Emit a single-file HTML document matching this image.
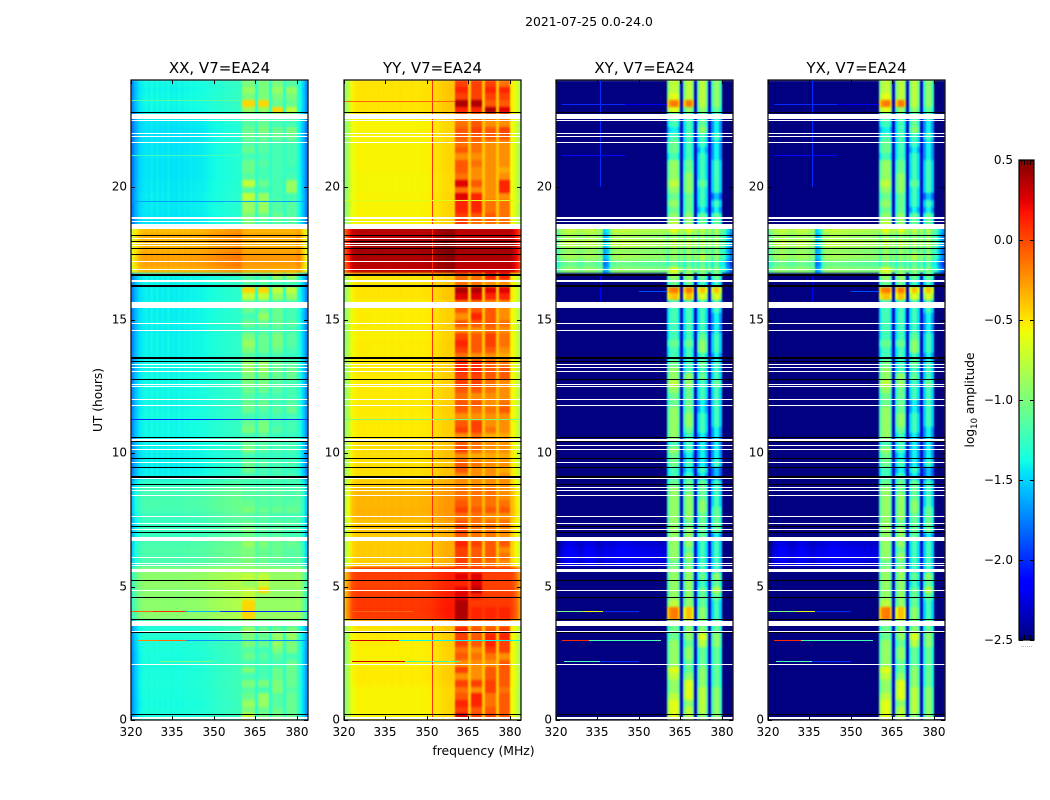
<!DOCTYPE html>
<html>
<head>
<meta charset="utf-8">
<title>2021-07-25 0.0-24.0</title>
<style>
html,body{margin:0;padding:0;background:#fff;}
svg{display:block;font-family:"DejaVu Sans","Liberation Sans",sans-serif;fill:#000;}
</style>
</head>
<body>
<svg id="figure" xmlns="http://www.w3.org/2000/svg" width="1050" height="800" viewBox="0 0 1050 800">
  <defs>
    <filter id="cellSoften" x="0" y="0" width="1" height="1" color-interpolation-filters="sRGB">
      <feGaussianBlur stdDeviation="0.7 1.1"/>
    </filter>
  </defs>
  <rect x="0" y="0" width="1050" height="800" fill="#fff"/>
  <text x="589" y="26" font-size="12.4" text-anchor="middle">2021-07-25 0.0-24.0</text>
  <text x="483.5" y="755" font-size="12.4" text-anchor="middle">frequency (MHz)</text>
  <text transform="translate(102,400) rotate(-90)" font-size="12.2" text-anchor="middle">UT (hours)</text>
  <text transform="translate(974,400) rotate(-90)" font-size="12.2" text-anchor="middle">log<tspan font-size="8.5" dy="3">10</tspan><tspan dy="-3"> amplitude</tspan></text>
  <g id="panels"></g>
  <g id="colorbar"></g>
</svg>
<script>
// ---------- axis categories and tick labels ----------
const freqTicks = [320, 335, 350, 365, 380];
const hourTicks = [0, 5, 10, 15, 20];
const colorbarTicks = [0.5, 0.0, -0.5, -1.0, -1.5, -2.0, -2.5];
const colorbarTickLabels = ["0.5", "0.0", "\u22120.5", "\u22121.0", "\u22121.5", "\u22122.0", "\u22122.5"];
const freqRange = [320, 384];
const hourRange = [0, 24];
const colorRange = [-2.5, 0.5];
const rowHours = 0.25;

// sub-bands in MHz where the strong signal sits
const bandEdges = [[360, 365], [366, 370], [371, 375], [376, 380]];

// ---------- flagged (white) and dropout (black) time intervals, hours ----------
const whiteIntervals = [
[22.52,22.74],[22.47,22.50],[21.99,22.01],[21.87,21.90],[21.65,21.68],[18.80,18.86],[18.67,18.71],[18.42,18.61],
[18.05,18.09],[17.86,17.89],[17.78,17.81],[17.19,17.21],[16.89,16.91],[16.43,16.50],[15.46,15.67],[14.86,14.89],
[14.60,14.62],[13.32,13.35],[13.20,13.24],[13.06,13.09],[12.57,12.60],[12.50,12.52],[12.01,12.04],[11.79,11.81],
[10.45,10.55],[10.29,10.31],[10.14,10.16],[9.65,9.67],[9.04,9.09],[8.72,8.74],[8.62,8.64],[8.41,8.44],
[7.62,7.65],[7.38,7.40],[7.14,7.16],[6.71,6.85],[6.09,6.11],[5.84,5.87],[5.77,5.80],[5.56,5.67],
[4.85,4.87],[3.54,3.72],[3.33,3.35],[2.08,2.10],[0.09,0.11],[0.04,0.06]
];
const blackIntervals = [
[22.77,22.80],[18.16,18.19],[17.93,17.96],[17.67,17.70],[17.45,17.48],[16.70,16.73],[16.64,16.67],[16.24,16.31],
[13.55,13.60],[13.45,13.48],[12.76,12.79],[10.58,10.61],[10.42,10.45],[9.80,9.83],[9.46,9.49],[9.09,9.14],
[8.82,8.85],[7.24,7.27],[7.03,7.06],[5.23,5.26],[4.59,4.62],[3.77,3.80],[3.28,3.31],[0.20,0.23]
];

// ---------- continuum level per 0.25 h row (bottom to top), log10 amplitude ----------
const rowLevelXX = [
-1.33,-1.33,-1.34,-1.33,-1.33,-1.32,-1.33,-1.33,-1.33,-1.33,-1.32,-1.31,
-1.30,-1.31,-1.31,-0.92,-0.92,-0.91,-0.92,-0.92,-0.90,-0.91,-0.92,-1.16,
-1.15,-1.14,-1.16,-1.22,-1.22,-1.22,-1.21,-1.17,-1.16,-1.17,-1.18,-1.25,
-1.38,-1.39,-1.39,-1.39,-1.38,-1.38,-1.36,-1.36,-1.36,-1.35,-1.36,-1.36,
-1.36,-1.36,-1.36,-1.36,-1.37,-1.36,-1.38,-1.38,-1.38,-1.38,-1.39,-1.38,
-1.39,-1.39,-1.38,-1.39,-1.39,-1.38,-1.38,-0.32,-0.26,-0.25,-0.30,-0.33,
-0.30,-0.34,-1.42,-1.42,-1.41,-1.41,-1.40,-1.41,-1.41,-1.42,-1.42,-1.42,
-1.42,-1.42,-1.42,-1.43,-1.43,-1.42,-1.40,-1.37,-1.36,-1.36,-1.37,-1.36
];
const rowLevelYY = [
-0.56,-0.55,-0.55,-0.55,-0.55,-0.53,-0.52,-0.52,-0.54,-0.54,-0.54,-0.53,
-0.52,-0.50,-0.50, 0.05, 0.06, 0.05, 0.04, 0.03, 0.02, 0.03, 0.05,-0.43,
-0.42,-0.42,-0.42,-0.42,-0.40,-0.40,-0.35,-0.34,-0.35,-0.35,-0.36,-0.42,
-0.48,-0.48,-0.49,-0.48,-0.48,-0.48,-0.52,-0.52,-0.52,-0.53,-0.52,-0.52,
-0.52,-0.52,-0.52,-0.52,-0.52,-0.52,-0.53,-0.53,-0.53,-0.54,-0.53,-0.53,
-0.53,-0.53,-0.53,-0.50,-0.50,-0.50,-0.50, 0.32, 0.35, 0.38, 0.40, 0.42,
 0.33, 0.35,-0.55,-0.55,-0.55,-0.55,-0.55,-0.56,-0.56,-0.56,-0.55,-0.55,
-0.55,-0.55,-0.55,-0.55,-0.55,-0.55,-0.50,-0.50,-0.50,-0.50,-0.50,-0.50
];
const rowLevelXY = [
-3.0,-3.0,-3.0,-3.0,-3.0,-3.0,-3.0,-3.0,-3.0,-3.0,-3.0,-3.0,
-3.0,-3.0,-3.0,-3.0,-3.0,-3.0,-3.0,-3.0,-3.0,-3.0,-3.0,-2.25,
-2.2,-2.22,-2.28,-3.0,-3.0,-3.0,-3.0,-3.0,-3.0,-3.0,-3.0,-3.0,
-3.0,-3.0,-3.0,-3.0,-3.0,-3.0,-3.0,-3.0,-3.0,-3.0,-3.0,-3.0,
-3.0,-3.0,-3.0,-3.0,-3.0,-3.0,-3.0,-3.0,-3.0,-3.0,-3.0,-3.0,
-3.0,-3.0,-3.0,-3.0,-3.0,-3.0,-3.0,-0.95,-1.10,-0.90,-0.95,-0.80,
-0.90,-0.80,-3.0,-3.0,-3.0,-3.0,-3.0,-3.0,-3.0,-3.0,-3.0,-3.0,
-3.0,-3.0,-3.0,-3.0,-3.0,-3.0,-3.0,-3.0,-3.0,-3.0,-3.0,-3.0
];

// ---------- per-channel (1 MHz) offsets, 320 to 383 MHz ----------
const channelOffsetXX = [
-0.35,-0.20,-0.12,-0.07,-0.04,-0.02,-0.05,-0.01,-0.04,-0.01,-0.05,-0.02,-0.04,-0.01,-0.05,-0.03,
-0.04,-0.02,-0.04,-0.01,-0.03,-0.01,-0.02,-0.01,-0.01,-0.01, 0.00, 0.01, 0.02, 0.03, 0.04, 0.05,
 0.05, 0.06, 0.07, 0.08, 0.08, 0.09, 0.10, 0.10, 0.00, 0.00, 0.00, 0.00, 0.00, 0.00, 0.00, 0.00,
 0.00, 0.00, 0.00, 0.00, 0.00, 0.00, 0.00, 0.00, 0.00, 0.00, 0.00, 0.00, 0.05,-0.02,-0.15,-0.35
];
const channelOffsetYY = [
-0.40,-0.25,-0.10,-0.03, 0.00, 0.01, 0.00, 0.01, 0.00, 0.01, 0.00, 0.00, 0.01, 0.00, 0.01, 0.00,
 0.00, 0.01, 0.00, 0.00, 0.01, 0.00, 0.00, 0.00, 0.01, 0.00, 0.00, 0.01, 0.01, 0.01, 0.02, 0.02,
 0.03, 0.05, 0.07, 0.08, 0.09, 0.10, 0.10, 0.10, 0.00, 0.00, 0.00, 0.00, 0.00, 0.00, 0.00, 0.00,
 0.00, 0.00, 0.00, 0.00, 0.00, 0.00, 0.00, 0.00, 0.00, 0.00, 0.00, 0.00,-0.02,-0.06,-0.16,-0.30
];
const channelOffsetXY = [
-0.25,-0.10, 0.00, 0.00, 0.05, 0.05, 0.02, 0.00,-0.05,-0.02, 0.02, 0.04, 0.04, 0.02, 0.00,-0.05,
-0.05, 0.00, 0.00, 0.00, 0.00, 0.02, 0.04, 0.05, 0.05, 0.04, 0.03, 0.02, 0.02, 0.01, 0.00, 0.00,
 0.00, 0.00,-0.02,-0.02,-0.02,-0.03,-0.03,-0.04,-0.30,-0.05, 0.00, 0.00,-0.25, 0.00,-0.25, 0.00,
 0.00,-0.25, 0.00,-0.25, 0.00, 0.00,-0.25, 0.00,-0.30, 0.00, 0.00,-0.30,-0.30,-0.50,-0.70,-0.90
];
// dips that only show in the bright cross-hand rows: MHz channel, dip
const brightRowDipsXY = [[337, -0.7], [338, -0.6], [339, -0.25]];

// ---------- band activity per 0.25 h row (0 quiet to 9 hot), bottom to top ----------
const activityA1 = [
8,6,7,5,4,6,3,6,3,5,4,6, 6,7,4,9,9,9,8,8,7,8,5,6, 6,6,7,5,6,5,4,6,5,4,4,3, 3,5,5,3,6,5,3,6,5,3,5,5,
4,5,6,6,7,7,4,6,7,6,3,5, 3,5,4,8,9,4,4,1,1,1,1,1, 1,1,6,6,7,7,8,4,8,4,5,5, 3,5,4,5,5,4,4,7,9,6,7,6
];
const activityA2 = [
6,5,7,7,3,6,3,3,3,4,3,5, 5,5,4,7,7,6,7,9,8,8,5,5, 5,5,6,4,4,4,4,5,4,4,4,3, 3,3,4,2,4,4,4,6,6,3,4,5,
3,5,6,6,7,7,3,5,5,5,3,5, 7,5,4,8,9,4,4,1,1,1,1,1, 1,1,4,5,7,7,7,3,5,3,3,4, 3,4,4,5,6,5,4,7,9,6,6,6
];
const activityA3 = [
6,5,4,4,6,6,5,5,3,4,6,7, 7,5,4,7,7,5,5,6,6,6,3,4, 5,5,5,4,4,4,3,5,4,4,4,3, 3,3,3,2,3,3,2,4,3,3,4,3,
3,4,4,5,5,5,3,5,6,6,4,5, 5,5,3,7,8,3,7,1,1,1,1,1, 1,1,4,5,4,4,3,3,3,3,3,3, 3,3,3,5,5,3,4,9,5,6,7,6
];
const activityA4 = [
5,5,5,5,4,5,5,5,5,3,6,6, 7,6,4,7,7,6,5,6,6,6,4,3, 4,3,5,3,3,4,3,5,4,3,3,3, 3,2,3,2,3,3,2,3,3,3,5,4,
3,3,3,5,5,4,2,3,4,4,3,4, 3,3,3,7,8,3,7,1,1,1,1,1, 1,1,4,4,4,4,3,7,7,3,2,3, 3,3,3,5,6,3,4,8,5,6,7,4
];
const activityB1 = [
7,7,7,6,5,5,6,7,5,5,5,5, 4,4,4,9,9,6,5,5,5,5,5,4, 5,5,5,5,5,5,5,5,5,5,5,4, 3,3,4,4,5,3,5,5,5,5,5,4,
4,5,6,5,5,4,3,3,4,3,3,3, 3,3,3,8,9,4,5,7,4,5,5,6, 5,7,6,5,4,5,4,5,6,5,5,5, 3,4,4,3,2,3,3,7,9,7,6,6
];
const activityB2 = [
6,6,5,7,7,7,5,4,4,5,5,4, 5,5,4,8,8,5,5,5,5,5,5,4, 5,4,5,5,5,4,5,5,5,5,4,4, 3,2,3,2,3,3,3,4,5,5,4,4,
4,4,5,5,3,3,3,3,4,3,3,3, 3,3,3,8,9,4,5,5,3,5,5,6, 5,7,5,5,4,4,4,5,5,5,4,4, 3,3,3,3,3,3,3,5,9,6,6,6
];
const activityB3 = [
5,6,6,6,6,5,5,5,4,4,4,6, 7,5,4,5,5,4,4,4,3,4,3,3, 3,3,3,4,4,4,4,5,5,4,4,4, 2,3,2,2,2,2,2,3,3,3,2,2,
3,3,3,4,3,4,3,5,5,4,3,3, 3,3,3,7,8,3,4,5,4,6,4,5, 5,6,4,4,2,3,3,3,4,3,3,3, 3,2,3,3,5,4,3,5,6,6,6,6
];
const activityB4 = [
5,5,5,5,5,4,4,4,4,4,4,5, 5,4,4,3,3,3,4,6,4,5,3,3, 3,3,3,2,4,4,4,4,3,3,3,3, 1,1,3,2,2,2,2,2,3,3,3,3,
3,3,4,3,3,3,2,3,3,3,2,2, 2,3,3,7,8,3,4,4,3,5,4,4, 4,5,4,4,2,3,1,3,3,3,3,3, 2,2,2,3,2,2,3,4,5,5,5,5
];

// activity digit to log10 amplitude, one table per polarisation
const activityLevelsXX = [-1.33,-1.30,-1.25,-1.20,-1.14,-1.07,-1.00,-0.90,-0.75,-0.45];
const activityLevelsYY = [-0.42,-0.37,-0.31,-0.22,-0.13,-0.05,0.03,0.12,0.25,0.38];
const activityLevelsXY = [-1.65,-1.55,-1.40,-1.20,-1.05,-0.90,-0.75,-0.62,-0.38,-0.15];

// value in the narrow gaps between sub-bands
const gapLevelXX = -1.28;
const gapLevelYY = -0.40;
const gapLevelXY = -2.30;

// single-row streaks: hour, start MHz, end MHz, log10 amplitude
const streaksXX = [
[23.25,320,360,-1.12],[21.2,320,360,-1.22],[19.45,320,384,-1.65],[11.3,320,384,-2.0],
[4.1,320,328,-0.1],[4.1,328,340,0.1],[4.1,340,352,-1.6],[4.1,352,384,-2.0],
[3.0,322,330,-0.2],[3.0,330,340,-0.1],[3.0,340,384,-1.7],[2.2,330,350,-1.0]
];
const streaksYY = [
[23.2,320,360,-0.1],[19.5,320,384,-0.65],[11.3,320,384,-1.0],[4.1,322,345,-0.1],
[3.0,322,340,0.3],[3.0,340,384,-1.4],[2.2,323,342,0.3],[2.2,342,362,-1.2]
];
const streaksXY = [
[23.1,322,345,-2.0],[23.1,345,360,-2.2],[21.2,322,345,-2.1],[16.1,350,360,-1.9],
[4.1,320,330,-1.0],[4.1,330,337,-0.6],[4.1,337,350,-2.0],
[3.0,322,332,0.1],[3.0,332,345,-1.2],[3.0,345,358,-1.2],
[2.2,323,336,-1.2],[2.2,336,350,-2.0]
];

// thin vertical interference lines: MHz, start hour, end hour, log10 amplitude
const linesXX = [];
const linesYY = [[351.9,0,24,0.08]];
const linesXY = [[335.9,20,24,-2.0],[335.9,15.7,16.7,-2.2]];

const panelTitles = ["XX, V7=EA24", "YY, V7=EA24", "XY, V7=EA24", "YX, V7=EA24"];

// ---------- layout ----------
const SVG_NS = "http://www.w3.org/2000/svg";
const panelLefts = [131, 344, 556, 768];
const panelWidth = 177;
const plotTop = 80;
const plotBottom = 720;

function xScale(left, mhz) {
  return left + (mhz - freqRange[0]) / (freqRange[1] - freqRange[0]) * panelWidth;
}
function yScale(hour) {
  return plotBottom - (hour - hourRange[0]) / (hourRange[1] - hourRange[0]) * (plotBottom - plotTop);
}
function piece(t, pts) {
  for (let i = 1; i < pts.length; i++) {
    if (t <= pts[i][0]) {
      const a = pts[i - 1], b = pts[i];
      return a[1] + (b[1] - a[1]) * (t - a[0]) / (b[0] - a[0]);
    }
  }
  return pts[pts.length - 1][1];
}
function jet(value) {
  const t = Math.max(0, Math.min(1, (value - colorRange[0]) / (colorRange[1] - colorRange[0])));
  const r = piece(t, [[0, 0], [0.35, 0], [0.66, 1], [0.89, 1], [1, 0.5]]);
  const g = piece(t, [[0, 0], [0.125, 0], [0.375, 1], [0.64, 1], [0.91, 0], [1, 0]]);
  const b = piece(t, [[0, 0.5], [0.11, 1], [0.34, 1], [0.65, 0], [1, 0]]);
  return "rgb(" + Math.round(r * 255) + "," + Math.round(g * 255) + "," + Math.round(b * 255) + ")";
}
function bandIndex(channel) {
  const mhz = freqRange[0] + channel;
  if (mhz < bandEdges[0][0] || mhz >= bandEdges[bandEdges.length - 1][1]) return -1;
  for (let i = 0; i < bandEdges.length; i++) {
    if (mhz >= bandEdges[i][0] && mhz < bandEdges[i][1]) return i;
  }
  return 4;
}
function svgEl(tag) {
  return document.createElementNS(SVG_NS, tag);
}
function place(el, x, y, w, h, fill) {
  el.setAttribute("x", x);
  el.setAttribute("y", y);
  el.setAttribute("width", w);
  el.setAttribute("height", h);
  el.setAttribute("fill", fill);
  el.setAttribute("shape-rendering", "crispEdges");
}

const polarisations = [
  { rows: rowLevelXX, offsets: channelOffsetXX, dips: [], bands: [activityA1, activityA2, activityA3, activityA4], levels: activityLevelsXX, gap: gapLevelXX, streaks: streaksXX, lines: linesXX },
  { rows: rowLevelYY, offsets: channelOffsetYY, dips: [], bands: [activityA1, activityA2, activityA3, activityA4], levels: activityLevelsYY, gap: gapLevelYY, streaks: streaksYY, lines: linesYY },
  { rows: rowLevelXY, offsets: channelOffsetXY, dips: brightRowDipsXY, bands: [activityB1, activityB2, activityB3, activityB4], levels: activityLevelsXY, gap: gapLevelXY, streaks: streaksXY, lines: linesXY },
  { rows: rowLevelXY, offsets: channelOffsetXY, dips: brightRowDipsXY, bands: [activityB1, activityB2, activityB3, activityB4], levels: activityLevelsXY, gap: gapLevelXY, streaks: streaksXY, lines: linesXY }
];

const panelsRoot = document.getElementById("panels");

polarisations.forEach(function (pol, p) {
  const left = panelLefts[p];
  const g = svgEl("g");
  
  
  panelsRoot.appendChild(g);

  // heatmap cells, softened slightly to match the resampled image
  const cells = svgEl("g");
  
  
  cells.setAttribute("filter", "url(#cellSoften)");
  g.appendChild(cells);

  const channelCount = freqRange[1] - freqRange[0];
  pol.rows.forEach(function (rowLevel, r) {
    const hour0 = r * rowHours, hour1 = (r + 1) * rowHours;
    const yTop = Math.round(yScale(hour1));
    const yBottom = Math.round(yScale(hour0));
    for (let ch = 0; ch < channelCount; ch++) {
      const band = bandIndex(ch);
      let value = rowLevel + pol.offsets[ch];
      if (rowLevel > -1.5) {
        pol.dips.forEach(function (d) {
          if (d[0] === freqRange[0] + ch) value += d[1];
        });
      }
      if (band >= 0 && band < 4) {
        value = Math.max(value, pol.levels[pol.bands[band][r]] + pol.offsets[ch]);
      } else if (band === 4) {
        value = Math.max(value, pol.gap);
      }
      const x0 = Math.round(xScale(left, freqRange[0] + ch));
      const x1 = Math.round(xScale(left, freqRange[0] + ch + 1));
      const cell = svgEl("rect");
      
      
      place(cell, x0, yTop, x1 - x0, yBottom - yTop, jet(value));
      cells.appendChild(cell);
    }
  });

  // vertical interference lines
  pol.lines.forEach(function (line) {
    const el = svgEl("rect");
    
    
    place(el, Math.round(xScale(left, line[0])), Math.round(yScale(line[2])), 1, Math.round(yScale(line[1])) - Math.round(yScale(line[2])), jet(line[3]));
    g.appendChild(el);
  });

  // row streaks
  pol.streaks.forEach(function (s) {
    const el = svgEl("rect");
    
    
    const x0 = Math.round(xScale(left, s[1]));
    place(el, x0, Math.round(yScale(s[0])), Math.round(xScale(left, s[2])) - x0, 1, jet(s[3]));
    g.appendChild(el);
  });

  // flagged intervals
  whiteIntervals.forEach(function (iv) {
    const el = svgEl("rect");
    
    
    const y0 = Math.round(yScale(iv[1]));
    place(el, left, y0, panelWidth, Math.max(1, Math.round(yScale(iv[0])) - y0), "#fff");
    g.appendChild(el);
  });
  blackIntervals.forEach(function (iv) {
    const el = svgEl("rect");
    
    
    const y0 = Math.round(yScale(iv[1]));
    place(el, left, y0, panelWidth, Math.max(1, Math.round(yScale(iv[0])) - y0), "#000");
    g.appendChild(el);
  });

  // frame
  const frame = svgEl("rect");
  
  
  frame.setAttribute("x", left);
  frame.setAttribute("y", plotTop);
  frame.setAttribute("width", panelWidth);
  frame.setAttribute("height", plotBottom - plotTop);
  frame.setAttribute("fill", "none");
  frame.setAttribute("stroke", "#000");
  frame.setAttribute("stroke-width", "1.2");
  g.appendChild(frame);

  // title
  const title = svgEl("text");
  
  
  title.setAttribute("x", left + panelWidth / 2);
  title.setAttribute("y", 73);
  title.setAttribute("font-size", "15");
  title.setAttribute("text-anchor", "middle");
  title.textContent = panelTitles[p];
  g.appendChild(title);

  // x ticks
  freqTicks.forEach(function (f) {
    const x = Math.round(xScale(left, f));
    [plotBottom - 4, plotTop].forEach(function (y) {
      const tick = svgEl("rect");
      
      
      place(tick, x, y, 1, 4, "#000");
      g.appendChild(tick);
    });
    const label = svgEl("text");
    
    
    label.setAttribute("x", x);
    label.setAttribute("y", 736);
    label.setAttribute("font-size", "12");
    label.setAttribute("text-anchor", "middle");
    label.textContent = String(f);
    g.appendChild(label);
  });

  // y ticks
  hourTicks.forEach(function (h) {
    const y = Math.round(yScale(h));
    [left, left + panelWidth - 4].forEach(function (x) {
      const tick = svgEl("rect");
      
      
      place(tick, x, y, 4, 1, "#000");
      g.appendChild(tick);
    });
    const label = svgEl("text");
    
    
    label.setAttribute("x", left - 4);
    label.setAttribute("y", y + 3.5);
    label.setAttribute("font-size", "12");
    label.setAttribute("text-anchor", "end");
    label.textContent = String(h);
    g.appendChild(label);
  });
});

// ---------- colorbar ----------
const cbRoot = document.getElementById("colorbar");
const cbLeft = 1019, cbWidth = 15, cbTop = 160, cbBottom = 640;
function cbScale(v) {
  return cbBottom - (v - colorRange[0]) / (colorRange[1] - colorRange[0]) * (cbBottom - cbTop);
}
const defs = svgEl("defs");
const grad = svgEl("linearGradient");
grad.setAttribute("id", "jetGradient");
grad.setAttribute("x1", "0");
grad.setAttribute("y1", "1");
grad.setAttribute("x2", "0");
grad.setAttribute("y2", "0");
for (let i = 0; i <= 64; i++) {
  const stop = svgEl("stop");
  stop.setAttribute("offset", i / 64);
  stop.setAttribute("stop-color", jet(colorRange[0] + (colorRange[1] - colorRange[0]) * i / 64));
  grad.appendChild(stop);
}
defs.appendChild(grad);
cbRoot.appendChild(defs);

const cbBar = svgEl("rect");


cbBar.setAttribute("x", cbLeft);
cbBar.setAttribute("y", cbTop);
cbBar.setAttribute("width", cbWidth);
cbBar.setAttribute("height", cbBottom - cbTop);
cbBar.setAttribute("fill", "url(#jetGradient)");
cbBar.setAttribute("stroke", "#000");
cbBar.setAttribute("stroke-width", "1.2");
cbRoot.appendChild(cbBar);

colorbarTicks.forEach(function (v, i) {
  const y = Math.round(cbScale(v));
  [cbLeft, cbLeft + cbWidth - 4].forEach(function (x) {
    const tick = svgEl("rect");
    
    
    place(tick, x, y, 4, 1, "#000");
    cbRoot.appendChild(tick);
  });
  const label = svgEl("text");
  
  
  label.setAttribute("x", 1013);
  label.setAttribute("y", y + 4);
  label.setAttribute("font-size", "12");
  label.setAttribute("text-anchor", "end");
  label.textContent = colorbarTickLabels[i];
  cbRoot.appendChild(label);
});

for (let i = 0; i < 5; i++) {
  const x = cbLeft + (i + 0.5) * cbWidth / 5;
  [cbTop, cbBottom - 5].forEach(function (y) {
    const tick = svgEl("rect");
    
    
    place(tick, Math.round(x), y, 1, 5, "#000");
    cbRoot.appendChild(tick);
  });
}

const cbDots = svgEl("text");


cbDots.setAttribute("x", cbLeft + cbWidth / 2);
cbDots.setAttribute("y", 647);
cbDots.setAttribute("font-size", "6");
cbDots.setAttribute("fill", "#666");
cbDots.setAttribute("text-anchor", "middle");
cbDots.textContent = "......";
cbRoot.appendChild(cbDots);
</script>
</body>
</html>
